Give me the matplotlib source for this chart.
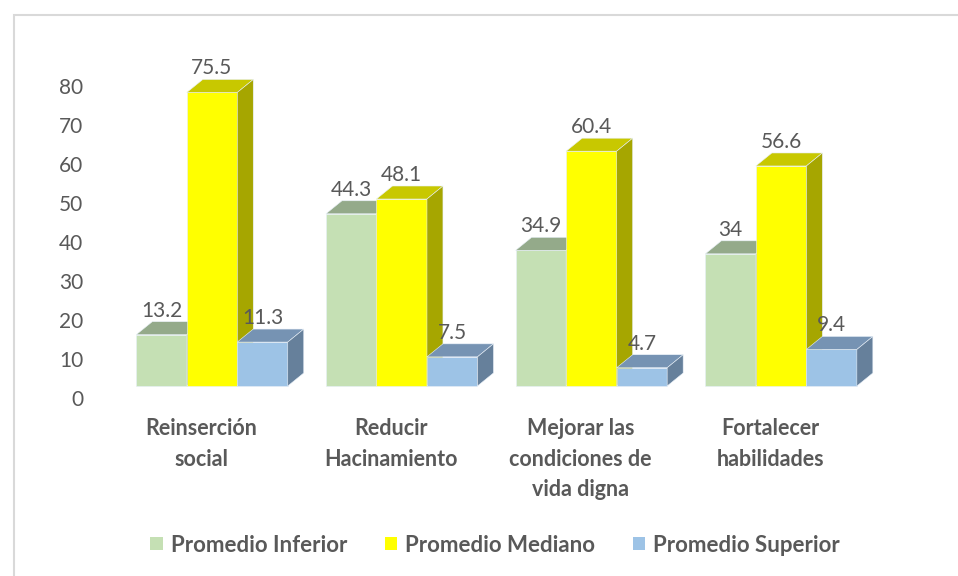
import numpy as np
import matplotlib.pyplot as plt
from matplotlib.patches import Polygon, Rectangle, Patch
from matplotlib.transforms import ScaledTranslation

# -------------------------
# Data
# -------------------------
categories = ["Reinserción\nsocial", "Reducir\nHacinamiento",
              "Mejorar las\ncondiciones de\nvida digna", "Fortalecer\nhabilidades"]
series_names = ["Promedio Inferior", "Promedio Mediano", "Promedio Superior"]
inferior = [13.2, 44.3, 34.9, 34]
mediano = [75.5, 48.1, 60.4, 56.6]
superior = [11.3, 7.5, 4.7, 9.4]
value_labels = [["13.2", "44.3", "34.9", "34"],
                ["75.5", "48.1", "60.4", "56.6"],
                ["11.3", "7.5", "4.7", "9.4"]]
yticks = list(range(0, 81, 10))

# face colours: front, top, side
colors = [("#C5E0B4", "#94AA8A", "#7E9474"),
          ("#FFFF00", "#C8C800", "#A6A600"),
          ("#9DC3E6", "#7693B3", "#66809B")]

plt.rcParams['font.family'] = ['Lato', 'DejaVu Sans']
text_col = "#595959"

W, H = 958, 576
fig = plt.figure(figsize=(W / 100, H / 100), dpi=100)

# axes geometry in pixels
ax_left, ax_right = 100, 900
ax_bottom, ax_top = 386, 75  # pixel rows (from top) for value 0 and 80
ax = fig.add_axes([ax_left / W, (H - ax_bottom) / H,
                   (ax_right - ax_left) / W, (ax_bottom - ax_top) / H])

group_px = 189.7
x0_px = 212
ax.set_xlim(-(x0_px - ax_left) / group_px, (ax_right - x0_px) / group_px)
ax.set_ylim(0, 80)

px_x = group_px                      # pixels per x unit
px_y = (ax_bottom - ax_top) / 80.0   # pixels per value unit
w = 50.5 / px_x
dx = 16 / px_x
dy = 13 / px_y

series = [inferior, mediano, superior]
z = 2
for i in range(len(categories)):
    for s, vals in enumerate(series):
        v = vals[i]
        xl = i + (s - 1) * w - w / 2
        front, top, side = colors[s]
        ax.bar(xl, v, width=w, align="edge", color=front, edgecolor="#E8F0F8",
               linewidth=0.4, zorder=z, clip_on=False)
        ax.add_patch(Polygon([(xl, v), (xl + w, v), (xl + w + dx, v + dy), (xl + dx, v + dy)],
                             closed=True, facecolor=top, edgecolor="#E8F0F8",
                             linewidth=0.4, zorder=z, clip_on=False))
        ax.add_patch(Polygon([(xl + w, 0), (xl + w + dx, dy), (xl + w + dx, v + dy), (xl + w, v)],
                             closed=True, facecolor=side, edgecolor="#E8F0F8",
                             linewidth=0.4, zorder=z, clip_on=False))
        z += 1
        ax.annotate(value_labels[s][i], (xl + w / 2, v), xytext=(0, 18 * 0.72),
                    textcoords="offset points", ha="center", va="baseline",
                    fontsize=15, color=text_col, zorder=50, clip_on=False)

# axis styling
for sp in ax.spines.values():
    sp.set_visible(False)
ax.set_xticks([])
ax.set_yticks(yticks)
ax.set_yticklabels([str(t) for t in yticks])
ax.tick_params(axis="y", length=0, pad=12, labelsize=15, labelcolor=text_col)
off = ScaledTranslation(0, -0.115, fig.dpi_scale_trans)
for lab in ax.get_yticklabels():
    lab.set_transform(lab.get_transform() + off)
ax.patch.set_alpha(0)

# category labels
for i, cat in enumerate(categories):
    ax.text(i - 11 / px_x, -(418 - ax_bottom) / px_y, cat, ha="center", va="top",
            fontsize=15.5, fontweight="bold", color=text_col, linespacing=1.57,
            clip_on=False)

# legend
handles = [Patch(facecolor=colors[k][0], edgecolor="none") for k in range(3)]
fig.legend(handles, series_names, loc="center", bbox_to_anchor=(495 / W, 1 - 545 / H),
           ncol=3, frameon=False, handlelength=0.55, handleheight=0.55,
           handletextpad=0.36, columnspacing=1.7, labelcolor=text_col,
           prop={"weight": "bold", "size": 16})

# outer frame of the chart area
fig.add_artist(Rectangle((14 / W, -0.1), 1.2, (H - 15) / H + 0.1, transform=fig.transFigure,
                         fill=False, edgecolor="#D9D9D9", linewidth=1.5))

fig.savefig("out.png", dpi=100, facecolor="white")
